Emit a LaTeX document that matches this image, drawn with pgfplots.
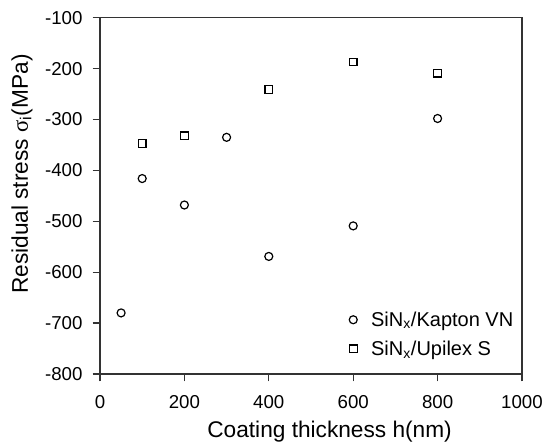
\documentclass[border=0pt]{standalone}
\usepackage{fontspec}
\setmainfont{Liberation Sans}
\newfontfamily\symf{Liberation Serif}
\usepackage{pgfplots}
\pgfplotsset{compat=1.18}
\begin{document}
\begin{tikzpicture}
\begin{axis}[
  width=316.5pt, height=267.2pt, scale only axis,
  xmin=0, xmax=1000, ymin=-800, ymax=-100,
  xtick={0,200,...,1000}, ytick={-800,-700,...,-100},
  tick pos=left, tick align=outside,
  major tick length=5.5pt,
  axis line style={black!80, line width=1pt},
  every tick/.style={black!80, line width=1pt},
  tick label style={font=\fontsize{14}{16}\selectfont, inner sep=0pt},
  yticklabel style={xshift=-7.5pt},
  xticklabel style={yshift=-10.5pt},
  /pgf/number format/assume math mode=true,
  /pgf/number format/1000 sep={},
  xlabel={Coating thickness h(nm)},
  ylabel={Residual stress {\symf σ}\textsubscript{i}(MPa)},
  label style={font=\fontsize{17}{20}\selectfont},
  xlabel style={at={(axis description cs:0.544,-0.177)}, anchor=base},
  ylabel style={at={(axis description cs:-0.185,0.561)}, anchor=center},
  legend style={draw=none, fill=none, at={(axis description cs:0.586,0.039)},
    anchor=south west, font=\fontsize{15}{17}\selectfont, row sep=5.5pt, inner sep=0pt},
  legend cell align=left,
  legend image code/.code={%
    \path[draw=none, fill=none] (0cm,0cm) -- (0.55cm,0cm);
    \draw[mark repeat=2,mark phase=2,#1] plot coordinates {(0cm,0cm) (0.15cm,0cm) (0.3cm,0cm)};},
]
\addplot[only marks, mark=o, mark size=3pt, line width=0.9pt, black] coordinates {
  (50,-680) (100,-416) (200,-468) (300,-335) (400,-569) (600,-509) (800,-298)
};
\addlegendentry{SiN\textsubscript{x}/Kapton VN}
\addplot[only marks, mark=square, mark size=2.9pt, line width=0.9pt, black] coordinates {
  (100,-347) (200,-332) (400,-241) (600,-187) (800,-209)
};
\addlegendentry{SiN\textsubscript{x}/Upilex S}
\end{axis}
\pgfresetboundingbox
\path ([shift={(-75pt,-53.25pt)}]current axis.south west) rectangle ([shift={(16.5pt,13.3pt)}]current axis.north east);
\end{tikzpicture}
\end{document}
